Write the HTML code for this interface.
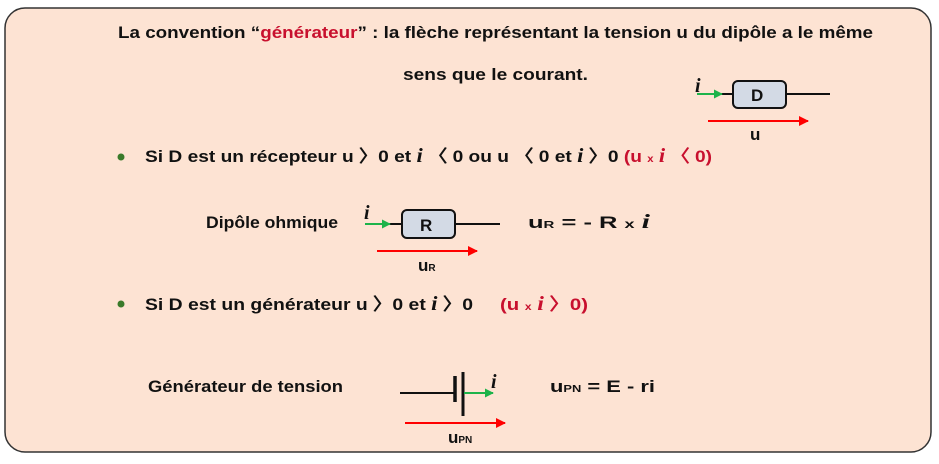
<!DOCTYPE html>
<html><head><meta charset="utf-8"><style>
html,body{margin:0;padding:0;background:#fff;}
svg text{font-family:"Liberation Sans",sans-serif;font-weight:bold;font-size:17px;fill:#111;}
.r{fill:#c8102e;}
.it{font-family:"Liberation Serif",serif;font-style:italic;font-size:20px;}
</style></head><body>
<svg width="939" height="459" viewBox="0 0 939 459" xmlns="http://www.w3.org/2000/svg">
<defs>
<marker id="ar" viewBox="0 0 10 10" refX="9" refY="5" markerWidth="5" markerHeight="5" orient="auto"><path d="M0,0L10,5L0,10z" fill="#f00"/></marker>
<marker id="ag" viewBox="0 0 10 10" refX="9" refY="5" markerWidth="4.5" markerHeight="4.5" orient="auto"><path d="M0,0L10,5L0,10z" fill="#1db34a"/></marker>
</defs>
<rect x="5" y="8" width="926" height="444" rx="20" fill="#fde3d3" stroke="#333" stroke-width="1.5"/>
<text x="118" y="38" textLength="755" lengthAdjust="spacingAndGlyphs">La convention “<tspan class="r">générateur</tspan>” : la flèche représentant la tension u du dipôle a le même</text>
<text x="403" y="80" textLength="185" lengthAdjust="spacingAndGlyphs">sens que  le courant.</text>
<!-- D -->
<line x1="697" y1="94" x2="830" y2="94" stroke="#111" stroke-width="2"/>
<line x1="697" y1="94" x2="722" y2="94" stroke="#1db34a" stroke-width="2" marker-end="url(#ag)"/>
<rect x="733" y="81" width="53" height="27" rx="5" fill="#d3dae5" stroke="#111" stroke-width="2"/>
<text x="751" y="101" font-size="18">D</text>
<text class="it" x="695" y="92">i</text>
<line x1="708" y1="121" x2="808" y2="121" stroke="#f00" stroke-width="2" marker-end="url(#ar)"/>
<text x="750" y="140">u</text>
<!-- bullet 1 -->
<circle cx="121" cy="157" r="3.5" fill="#3a7a2a"/>
<text x="145" y="162" textLength="567" lengthAdjust="spacingAndGlyphs">Si D est un récepteur u 〉0 et <tspan class="it">i</tspan> 〈 0 ou u 〈 0 et <tspan class="it">i</tspan> 〉0  <tspan class="r">(u <tspan font-size="10">x</tspan> <tspan class="it r">i</tspan> 〈 0)</tspan></text>
<text x="206" y="228" textLength="132" lengthAdjust="spacingAndGlyphs">Dipôle ohmique</text>
<line x1="365" y1="224" x2="500" y2="224" stroke="#111" stroke-width="2"/>
<line x1="365" y1="224" x2="390" y2="224" stroke="#1db34a" stroke-width="2" marker-end="url(#ag)"/>
<rect x="402" y="210" width="53" height="28" rx="5" fill="#d3dae5" stroke="#111" stroke-width="2"/>
<text x="420" y="231" font-size="18">R</text>
<text class="it" x="364" y="219">i</text>
<line x1="377" y1="251" x2="477" y2="251" stroke="#f00" stroke-width="2" marker-end="url(#ar)"/>
<text x="418" y="271">u<tspan font-size="10">R</tspan></text>
<text x="528" y="228" textLength="122" lengthAdjust="spacingAndGlyphs">u<tspan font-size="10">R</tspan> = - R <tspan font-size="12">x</tspan> <tspan class="it">i</tspan></text>
<!-- bullet 2 -->
<circle cx="121" cy="304" r="3.5" fill="#3a7a2a"/>
<text x="145" y="310" textLength="328" lengthAdjust="spacingAndGlyphs">Si D est un générateur u 〉0 et <tspan class="it">i</tspan> 〉0</text>
<text x="500" y="310" class="r" textLength="88" lengthAdjust="spacingAndGlyphs">(u <tspan font-size="10">x</tspan> <tspan class="it r">i</tspan> 〉0)</text>
<text x="148" y="392" textLength="195" lengthAdjust="spacingAndGlyphs">Générateur de tension</text>
<line x1="400" y1="393" x2="455" y2="393" stroke="#111" stroke-width="2"/>
<line x1="455" y1="376" x2="455" y2="402" stroke="#111" stroke-width="3.5"/>
<line x1="463" y1="372" x2="463" y2="416" stroke="#111" stroke-width="3"/>
<line x1="464" y1="393" x2="493" y2="393" stroke="#1db34a" stroke-width="2" marker-end="url(#ag)"/>
<text class="it" x="491" y="388">i</text>
<line x1="405" y1="423" x2="505" y2="423" stroke="#f00" stroke-width="2" marker-end="url(#ar)"/>
<text x="448" y="443">u<tspan font-size="10">PN</tspan></text>
<text x="550" y="392" textLength="105" lengthAdjust="spacingAndGlyphs">u<tspan font-size="10">PN</tspan> = E - ri</text>
</svg>
</body></html>
